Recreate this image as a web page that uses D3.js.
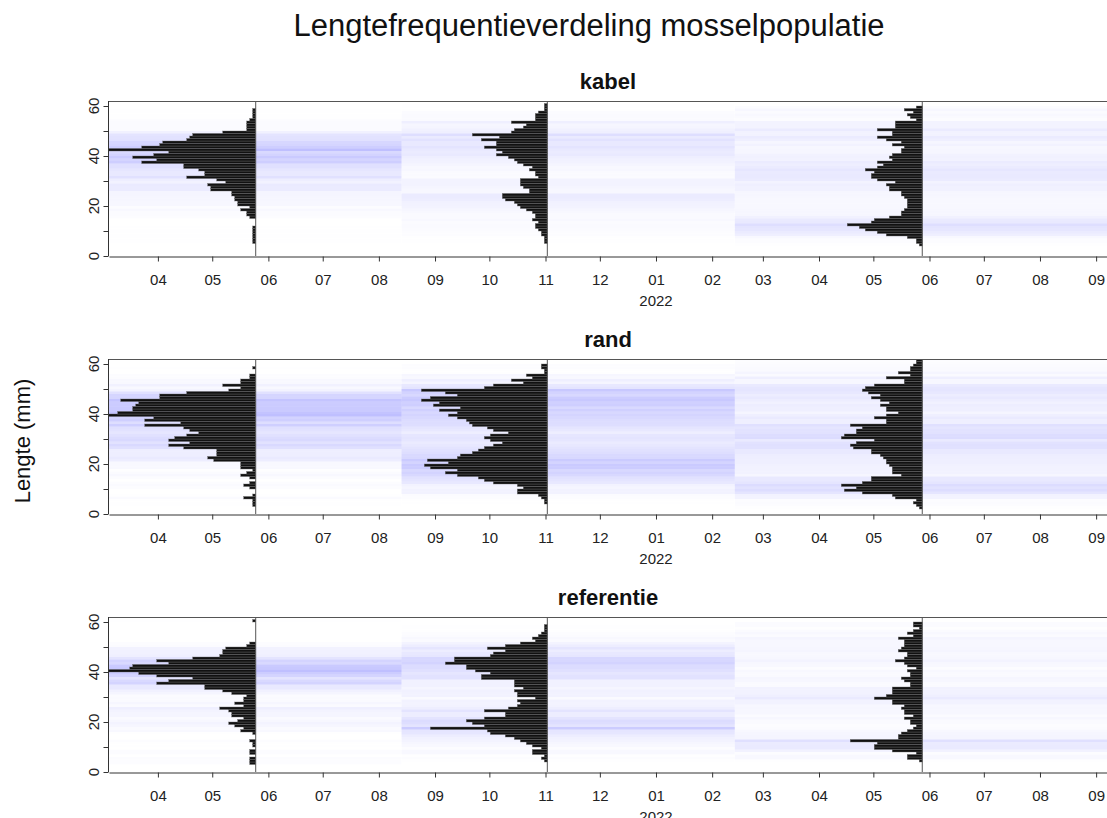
<!DOCTYPE html>
<html>
<head>
<meta charset="utf-8">
<script src="https://cdn.jsdelivr.net/npm/d3@7"></script>
<style>
  body { margin: 0; background: #fff; }
</style>
</head>
<body>
<script>
// aantallen per lengteklasse van 1 mm (index = ondergrens in mm, 0..61)
var kabelMei2021 = [0,0,0,0,0,1,1,1,1,1,1,1,0,0,0,2,3,3,5,2,6,6,7,7,8,8,15,15,16,10,13,23,17,17,19,24,24,38,33,41,34,29,49,38,32,31,23,22,21,11,3,3,3,3,2,1,1,1,1,0,0,0];
var kabelNov2021 = [0,0,0,0,0,1,1,1,2,2,3,4,4,3,5,4,4,5,7,9,10,11,14,15,15,6,6,8,9,9,9,3,4,4,6,5,8,10,11,13,17,15,17,21,17,17,22,16,25,12,11,8,7,12,4,4,4,3,1,1,1,0];
var kabelMei2022 = [0,0,0,0,1,2,2,5,12,15,19,21,25,17,16,11,7,7,6,5,5,5,5,6,7,7,11,11,12,9,15,17,17,16,19,15,13,15,10,11,10,7,7,6,10,7,12,15,10,10,15,9,9,9,2,4,5,3,6,2,0,0];

var randMei2021 = [0,0,0,1,1,1,4,1,0,0,2,4,2,0,2,5,3,1,5,5,5,14,16,13,13,13,24,29,22,29,27,23,19,22,24,37,25,37,34,49,46,41,41,40,39,45,32,32,23,9,5,11,5,5,2,2,0,0,1,0,0,0];
var randNov2021 = [0,0,0,0,1,1,2,3,10,10,8,10,18,21,23,30,34,30,39,41,33,40,30,29,25,23,21,18,15,19,21,19,13,18,20,25,26,27,30,33,30,36,29,38,36,42,39,30,34,42,21,18,8,12,5,7,1,1,2,2,0,0];
var randMei2022 = [0,0,1,2,3,2,9,10,20,26,22,27,20,17,17,7,10,10,10,11,12,12,13,14,17,17,23,24,22,16,27,26,22,22,20,24,12,12,16,12,8,12,12,14,11,14,17,14,18,20,19,16,6,6,12,4,8,4,4,3,2,2];

var refMei2021 = [0,0,0,2,2,2,0,2,2,0,1,1,2,0,0,1,5,4,7,9,6,4,8,8,9,12,4,7,4,4,3,8,11,17,17,33,29,21,33,39,49,42,41,29,33,21,12,11,11,10,3,2,0,0,0,0,0,0,0,0,1,0];
var refNov2021 = [0,0,0,0,1,2,1,5,5,2,5,7,9,11,14,19,20,39,21,25,27,21,14,14,21,13,10,9,10,4,10,10,11,8,11,11,11,22,22,19,24,27,27,34,31,31,19,18,14,20,14,9,4,5,3,2,1,1,1,0,0,0];
var refMei2022 = [0,0,0,0,1,5,5,2,10,16,16,15,24,8,8,7,5,3,2,4,4,6,3,6,6,7,6,10,10,16,12,10,10,10,4,4,6,7,4,4,5,2,5,6,9,6,5,5,8,7,6,6,6,8,3,5,3,1,3,3,0,0];

var panelNames = ['kabel', 'rand', 'referentie'];
var sampleDates = [new Date(2021, 4, 25), new Date(2021, 10, 2), new Date(2022, 4, 28)];
var panelData = [
  [kabelMei2021, kabelNov2021, kabelMei2022],
  [randMei2021, randNov2021, randMei2022],
  [refMei2021, refNov2021, refMei2022]
];
var yTicks = [0, 10, 20, 30, 40, 50, 60];
var yLabels = [0, 20, 40, 60];

var width = 1107, height = 818;
var left = 109, right = 1107;
var panelTops = [101, 359, 617];
var panelH = 155;
var font = '"Liberation Sans", Arial, Helvetica, sans-serif';

var svg = d3.select('body')
  .append('svg')
  .attr('width', width)
  .attr('height', height)
  .style('font-family', font);

svg.append('rect')
  .attr('width', width)
  .attr('height', height)
  .attr('fill', '#fff');

svg.append('text')
  .attr('x', 589)
  .attr('y', 36)
  .attr('text-anchor', 'middle')
  .style('font-size', '31px')
  .attr('fill', '#111')
  .text('Lengtefrequentieverdeling mosselpopulatie');

svg.append('text')
  .attr('transform', 'translate(30,441) rotate(-90)')
  .attr('text-anchor', 'middle')
  .style('font-size', '22px')
  .attr('fill', '#111')
  .text('Lengte (mm)');

var xScale = d3.scaleTime()
  .domain([new Date(2021, 2, 5), new Date(2022, 8, 7)])
  .range([left, right]);

var lenScale = d3.scaleLinear()
  .domain([0, 10])
  .range([0, 30]);

var shadeScale = d3.scaleLinear()
  .domain([0, 49])
  .range([0, 0.25]);

// grenzen van de gekleurde banden: halverwege tussen de bemonsteringen
var bounds = [xScale.domain()[0]];
for (var i = 0; i < sampleDates.length - 1; i++) {
  bounds.push(new Date((sampleDates[i].getTime() + sampleDates[i + 1].getTime()) / 2));
}
bounds.push(xScale.domain()[1]);

panelNames.forEach(function(name, p) {
  var top = panelTops[p];
  var bottom = top + panelH;

  var yScale = d3.scaleLinear()
    .domain([0, 62])
    .range([bottom, top]);

  var g = svg.append('g');

  g.append('clipPath')
    .attr('id', 'clip' + p)
    .append('rect')
    .attr('x', left)
    .attr('y', top)
    .attr('width', right - left)
    .attr('height', panelH);

  var plot = g.append('g').attr('clip-path', 'url(#clip' + p + ')');

  panelData[p].forEach(function(counts, s) {
    var bins = counts.map(function(c, k) { return {k: k, c: c}; })
      .filter(function(d) { return d.c > 0; });

    plot.append('g')
      .selectAll('rect')
      .data(bins)
      .enter()
      .append('rect')
      .attr('x', xScale(bounds[s]))
      .attr('width', xScale(bounds[s + 1]) - xScale(bounds[s]))
      .attr('y', function(d) { return yScale(d.k + 1); })
      .attr('height', function(d) { return yScale(d.k) - yScale(d.k + 1); })
      .attr('fill', '#0000ff')
      .attr('fill-opacity', function(d) { return shadeScale(d.c); });
  });

  panelData[p].forEach(function(counts, s) {
    var bins = counts.map(function(c, k) { return {k: k, c: c}; })
      .filter(function(d) { return d.c > 0; });
    var x0 = xScale(sampleDates[s]);

    plot.append('g')
      .selectAll('rect')
      .data(bins)
      .enter()
      .append('rect')
      .attr('x', function(d) { return x0 - lenScale(d.c); })
      .attr('width', function(d) { return lenScale(d.c); })
      .attr('y', function(d) { return yScale(d.k + 1); })
      .attr('height', function(d) { return yScale(d.k) - yScale(d.k + 1); })
      .attr('fill', '#111')
      .attr('stroke', '#6a6a6a')
      .attr('stroke-width', 0.4);

    plot.append('line')
      .attr('x1', x0).attr('x2', x0)
      .attr('y1', top).attr('y2', bottom)
      .attr('stroke', '#555')
      .attr('stroke-width', 1);
  });

  // kader
  g.append('line')
    .attr('x1', left).attr('x2', right)
    .attr('y1', top + 0.5).attr('y2', top + 0.5)
    .attr('stroke', '#555');
  g.append('line')
    .attr('x1', left - 0.5).attr('x2', left - 0.5)
    .attr('y1', top).attr('y2', bottom)
    .attr('stroke', '#333');

  var xAxis = d3.axisBottom(xScale)
    .ticks(d3.timeMonth.every(1))
    .tickFormat(d3.timeFormat('%m'))
    .tickSizeInner(5)
    .tickSizeOuter(0)
    .tickPadding(13);

  var xg = g.append('g')
    .attr('transform', 'translate(0,' + (bottom + 0.5) + ')')
    .call(xAxis);
  xg.select('.domain').attr('stroke', '#333');
  xg.selectAll('.tick line').attr('stroke', '#333');
  xg.selectAll('text')
    .attr('font-family', font)
    .style('font-size', '15px')
    .attr('fill', '#222');
  xg.attr('font-family', null);

  g.append('text')
    .attr('x', xScale(new Date(2022, 0, 1)))
    .attr('y', bottom + 50)
    .attr('text-anchor', 'middle')
    .style('font-size', '15px')
    .attr('fill', '#222')
    .text('2022');

  var yAxis = d3.axisLeft(yScale)
    .tickValues(yTicks)
    .tickFormat('')
    .tickSizeInner(5)
    .tickSizeOuter(0);

  var yg = g.append('g')
    .attr('transform', 'translate(' + (left - 0.5) + ',0)')
    .call(yAxis);
  yg.select('.domain').remove();
  yg.selectAll('.tick line').attr('stroke', '#333');

  g.selectAll('.ylab')
    .data(yLabels)
    .enter()
    .append('text')
    .attr('class', 'ylab')
    .attr('transform', function(d) { return 'translate(99,' + yScale(d) + ') rotate(-90)'; })
    .attr('text-anchor', 'middle')
    .style('font-size', '15px')
    .attr('fill', '#222')
    .text(function(d) { return d; });

  g.append('text')
    .attr('x', (left + right) / 2)
    .attr('y', top - 12)
    .attr('text-anchor', 'middle')
    .style('font-size', '22px')
    .style('font-weight', 'bold')
    .attr('fill', '#111')
    .text(name);
});
</script>
</body>
</html>
